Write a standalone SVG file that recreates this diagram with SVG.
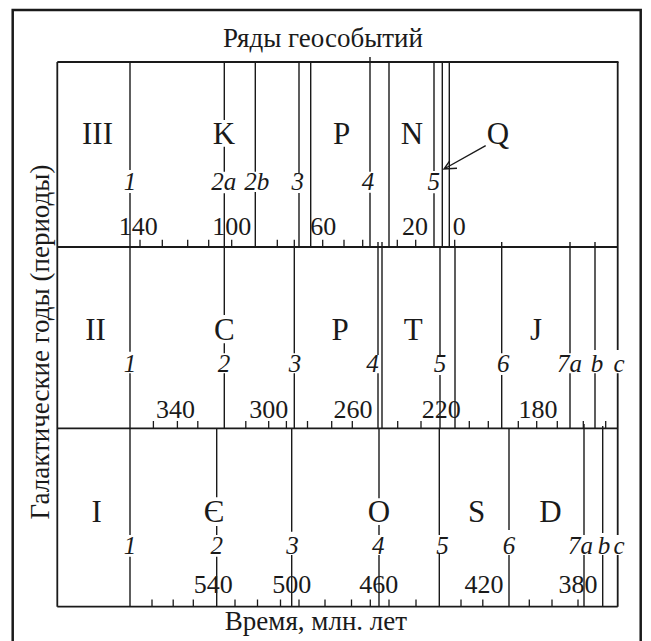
<svg xmlns="http://www.w3.org/2000/svg" width="651" height="641" viewBox="0 0 651 641">
  <style>
    .frame { fill: none; stroke: #1a1a1a; stroke-width: 2.5; }
    .grid { fill: none; stroke: #1a1a1a; stroke-width: 1.8; }
    .ev { fill: none; stroke: #1a1a1a; stroke-width: 1.4; }
    .tick { fill: none; stroke: #1a1a1a; stroke-width: 1.3; }
    text { font-family: "Liberation Serif", "Times New Roman", serif; fill: #1a1a1a; text-anchor: middle; }
    .per { font-size: 31px; }
    .num { font-size: 25px; font-style: italic; }
    .age { font-size: 26px; }
    .cap { font-size: 27px; }
  </style>

  <!-- outer frame -->
  <rect class="frame" x="12.7" y="10" width="628" height="645"/>

  <!-- captions -->
  <text class="cap" x="323" y="47">Ряды геособытий</text>
  <text class="cap" x="316" y="630">Время, млн. лет</text>
  <text class="cap" transform="translate(49,342) rotate(-90)">Галактические годы (периоды)</text>

  <!-- table grid: three bands, each with its own time axis -->
  <g id="grid">
    <path class="grid" d="M57.3 62 H618.5 M57.3 247 H617.7 M57.3 428.3 H617.7 M57.3 606.7 H617.7 M57.3 62 V606.7"/>
    <path class="grid" d="M617.7 62 V350 M617.7 373.3 V535 M617.7 555 V606.7"/>
  </g>

  <!-- band III: 140 .. 0 Ma -->
  <g id="band-III">
    <path class="ev" d="M130 62 V170 M130 193 V247
      M224.3 62 V120 M224.3 146.7 V171.7 M224.3 193.3 V247
      M255.3 62 V171.7 M255.3 192 V247
      M299 62 V173 M299 193 V247
      M310.7 62 V247
      M370 57 V171.7 M370 192.7 V247
      M389 62 V247
      M434 62 V171 M434 193.3 V247
      M442.3 62 V247
      M449.3 62 V247"/>
    <path class="tick" d="M140 247 v-7.3 M162.3 247 v-7.3 M187.7 247 v-7.3 M208.7 247 v-7.3 M231.7 247 v-7.3
      M277.3 247 v-7.3 M294.3 247 v-7.3 M322.7 247 v-7.3 M344 247 v-7.3 M362.7 247 v-7.3
      M397.3 247 v-7.3 M415.7 247 v-7.3 M454.7 247 v-7.3"/>
    <text class="per" x="97.5" y="143.5">III</text>
    <text class="per" x="224" y="143.5">K</text>
    <text class="per" x="341.7" y="143.5">P</text>
    <text class="per" x="412" y="143.5">N</text>
    <text class="per" x="498" y="143.5">Q</text>
    <text class="num" x="130" y="190">1</text>
    <text class="num" x="223.7" y="190">2a</text>
    <text class="num" x="256.7" y="190">2b</text>
    <text class="num" x="297.8" y="190">3</text>
    <text class="num" x="368" y="190">4</text>
    <text class="num" x="433.8" y="190">5</text>
    <text class="age" x="138.3" y="235">140</text>
    <text class="age" x="231.7" y="235">100</text>
    <text class="age" x="323.3" y="235">60</text>
    <text class="age" x="415" y="235">20</text>
    <text class="age" x="459.3" y="235">0</text>
  </g>

  <!-- band II: 340 .. 160 Ma -->
  <g id="band-II">
    <path class="ev" d="M130 247 V351.7 M130 373.3 V428.3
      M224.3 247 V315 M224.3 343.3 V353.3 M224.3 373.3 V428.3
      M294.3 247 V353.3 M294.3 373.3 V428.3
      M378 242 V355 M378 373.3 V428.3
      M382 242 V428.3
      M440 247 V355 M440 375 V428.3
      M455 247 V428.3
      M501.7 242 V353.3 M501.7 375 V428.3
      M570 242 V353.3 M570 373.3 V428.3
      M595 242 V350 M595 373.3 V428.3"/>
    <path class="tick" d="M153.4 428.3 v-7.3 M177.4 428.3 v-7.3 M197.8 428.3 v-7.3 M245.8 428.3 v-7.3
      M268.7 428.3 v-7.3 M286.4 428.3 v-7.3 M307.5 428.3 v-7.3 M331.7 428.3 v-7.3 M352.3 428.3 v-7.3
      M397.7 428.3 v-7.3 M421 428.3 v-7.3 M469.3 428.3 v-7.3 M488.3 428.3 v-7.3 M518.3 428.3 v-7.3
      M536.7 428.3 v-7.3 M557.3 428.3 v-7.3 M583.3 428.3 v-7.3 M605.7 428.3 v-7.3"/>
    <text class="per" x="95.5" y="340">II</text>
    <text class="per" x="224.3" y="340">C</text>
    <text class="per" x="340" y="340">P</text>
    <text class="per" x="413.3" y="340">T</text>
    <text class="per" x="536" y="340">J</text>
    <text class="num" x="130" y="371.5">1</text>
    <text class="num" x="224" y="371.5">2</text>
    <text class="num" x="295" y="371.5">3</text>
    <text class="num" x="372.5" y="371.5">4</text>
    <text class="num" x="440" y="371.5">5</text>
    <text class="num" x="503.3" y="371.5">6</text>
    <text class="num" x="569.5" y="371.5">7a</text>
    <text class="num" x="597" y="371.5">b</text>
    <text class="num" x="619" y="371.5">c</text>
    <text class="age" x="175.5" y="417.5">340</text>
    <text class="age" x="268.8" y="417.5">300</text>
    <text class="age" x="353" y="417.5">260</text>
    <text class="age" x="441.3" y="417.5">220</text>
    <text class="age" x="538" y="417.5">180</text>
  </g>

  <!-- band I: 560 .. 360 Ma -->
  <g id="band-I">
    <path class="ev" d="M130 428.3 V535 M130 556.7 V606.7
      M216.7 428.3 V497.3 M216.7 526 V535 M216.7 556.7 V606.7
      M291.7 428.3 V531.7 M291.7 555 V606.7
      M379 428.3 V498.3 M379 525 V535 M379 555 V606.7
      M439.3 428.3 V535 M439.3 553.3 V606.7
      M509 428.3 V530 M509 555 V606.7
      M584 424 V535 M584 555 V606.7
      M602.7 426 V533 M602.7 555 V606.7"/>
    <path class="tick" d="M152 606.7 v-7.3 M173.2 606.7 v-7.3 M193.3 606.7 v-7.3 M235 606.7 v-7.3
      M257.5 606.7 v-7.3 M280.5 606.7 v-7.3 M299 606.7 v-7.3 M325 606.7 v-7.3 M351.5 606.7 v-7.3
      M370.3 606.7 v-7.3 M389 606.7 v-7.3 M416 606.7 v-7.3 M461 606.7 v-7.3 M482.8 606.7 v-7.3
      M529.3 606.7 v-7.3 M552 606.7 v-7.3 M578 606.7 v-7.3"/>
    <text class="per" x="96.7" y="522">I</text>
    <text class="per" x="214" y="522">Є</text>
    <text class="per" x="379" y="522">O</text>
    <text class="per" x="476.7" y="522">S</text>
    <text class="per" x="550.5" y="522">D</text>
    <text class="num" x="130" y="554">1</text>
    <text class="num" x="216.7" y="554">2</text>
    <text class="num" x="292.5" y="554">3</text>
    <text class="num" x="378.3" y="554">4</text>
    <text class="num" x="442.5" y="554">5</text>
    <text class="num" x="509" y="554">6</text>
    <text class="num" x="580.5" y="554">7a</text>
    <text class="num" x="604" y="554">b</text>
    <text class="num" x="619" y="554">c</text>
    <text class="age" x="213.3" y="592.5">540</text>
    <text class="age" x="291.7" y="592.5">500</text>
    <text class="age" x="378.7" y="592.5">460</text>
    <text class="age" x="484" y="592.5">420</text>
    <text class="age" x="578" y="592.5">380</text>
  </g>

  <!-- pointer from the Q label to the quaternary boundary -->
  <g id="connectors">
    <path class="ev" d="M485.7 145.7 L444 169 M457 168.3 L444 169 L449.7 160.8"/>
  </g>
</svg>
